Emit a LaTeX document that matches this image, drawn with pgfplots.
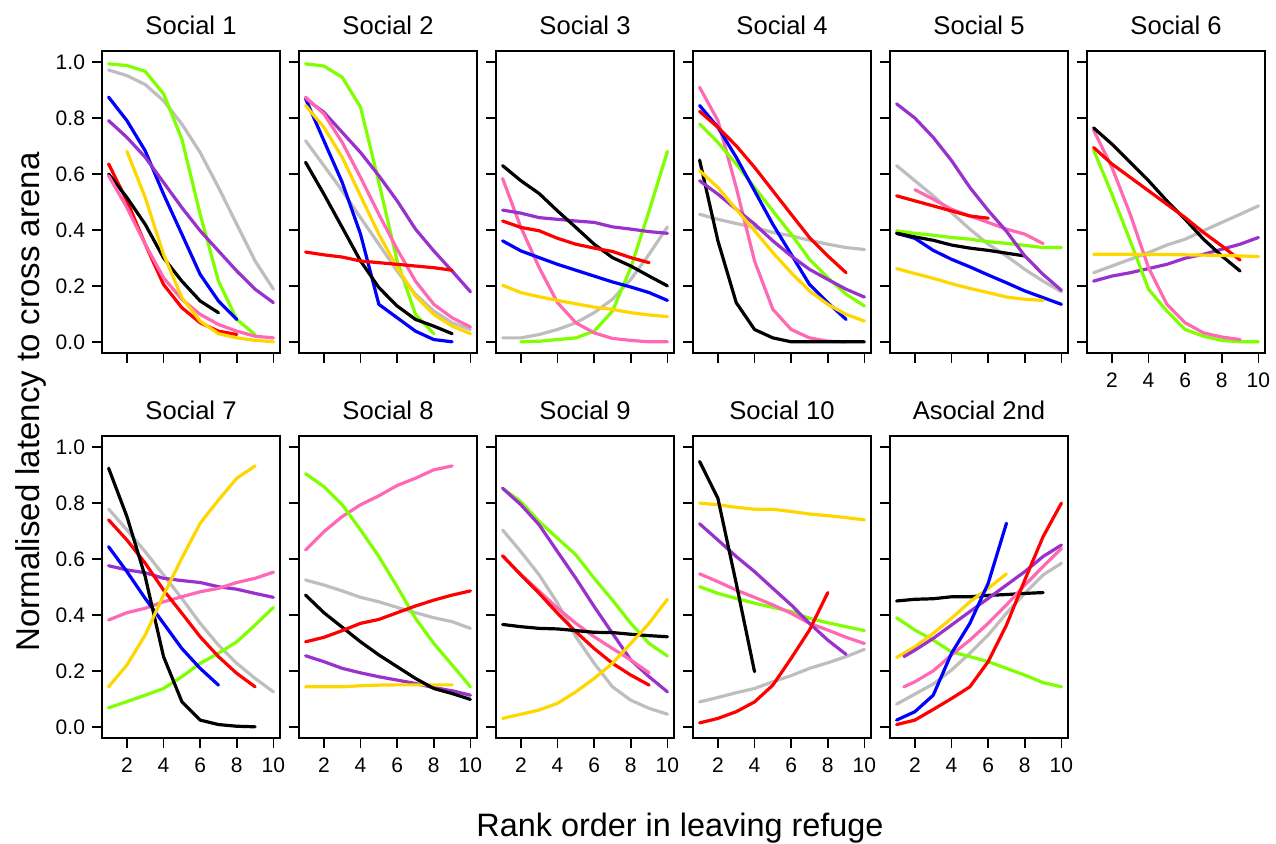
\documentclass[border=0pt]{standalone}
\usepackage{fontspec}
\setmainfont{Liberation Sans}
\usepackage{pgfplots}
\pgfplotsset{compat=1.18}

\definecolor{cgreen}{HTML}{7FFF00}
\definecolor{cpurple}{HTML}{9932CC}
\definecolor{cpink}{HTML}{FF69B4}
\definecolor{cgold}{HTML}{FFD700}
\definecolor{cgray}{HTML}{BEBEBE}
\definecolor{cblue}{HTML}{0000FF}
\definecolor{cred}{HTML}{FF0000}

\pgfplotsset{
  panel/.style={
    width=89pt, height=151pt, scale only axis,
    anchor=south west,
    xmin=0.64, xmax=10.36, ymin=-0.04, ymax=1.04,
    xtick={2,4,6,8,10}, ytick={0,0.2,0.4,0.6,0.8,1},
    tick pos=left, tick align=outside, major tick length=5pt,
    axis line style={line width=0.8pt},
    every tick/.style={black, line width=0.8pt},
    tick label style={font=\fontsize{10.5}{12}\selectfont},
    /pgf/number format/assume math mode=true,
    yticklabel style={/pgf/number format/.cd, fixed, fixed zerofill, precision=1},
    xticklabel style={yshift=-1.5pt},
    title style={at={(0.5,1)}, anchor=base, yshift=2pt, font=\fontsize{12.8}{15}\selectfont},
    every axis plot/.append style={line width=1.6pt, line cap=round, line join=round, mark=none},
  },
  noy/.style={yticklabels={}},
  nox/.style={xticklabels={}},
}

\begin{document}
\begin{tikzpicture}
\useasboundingbox (0,0) rectangle (638pt,422pt);

% ---------------- row 1 ----------------
\begin{axis}[panel, nox, at={(51pt,245.5pt)}, title={Social 1}]
\addplot[cgray] coordinates {(1,0.972)(2,0.952)(3,0.92)(4,0.862)(5,0.779)(6,0.677)(7,0.552)(8,0.42)(9,0.289)(10,0.188)};
\addplot[cgreen] coordinates {(1,0.994)(2,0.988)(3,0.967)(4,0.887)(5,0.725)(6,0.456)(7,0.217)(8,0.08)(9,0.026)};
\addplot[cblue] coordinates {(1,0.875)(2,0.791)(3,0.683)(4,0.528)(5,0.385)(6,0.241)(7,0.146)(8,0.08)};
\addplot[cpurple] coordinates {(1,0.791)(2,0.731)(3,0.66)(4,0.57)(5,0.48)(6,0.397)(7,0.325)(8,0.253)(9,0.188)(10,0.14)};
\addplot[cred] coordinates {(1,0.636)(2,0.504)(3,0.349)(4,0.205)(5,0.122)(6,0.068)(7,0.038)(8,0.026)};
\addplot[black] coordinates {(1,0.6)(2,0.516)(3,0.42)(4,0.3)(5,0.217)(6,0.146)(7,0.104)};
\addplot[cpink] coordinates {(1,0.594)(2,0.48)(3,0.349)(4,0.229)(5,0.152)(6,0.098)(7,0.062)(8,0.038)(9,0.02)(10,0.014)};
\addplot[cgold] coordinates {(2,0.681)(3,0.516)(4,0.313)(5,0.158)(6,0.074)(7,0.029)(8,0.014)(9,0.005)(10,0.0)};
\end{axis}

\begin{axis}[panel, nox, noy, at={(149.5pt,245.5pt)}, title={Social 2}]
\addplot[cgreen] coordinates {(1,0.994)(2,0.986)(3,0.946)(4,0.839)(5,0.57)(6,0.289)(7,0.098)(8,0.029)};
\addplot[cgray] coordinates {(1,0.719)(2,0.63)(3,0.54)(4,0.444)(5,0.349)(6,0.253)(7,0.17)(8,0.11)(9,0.068)(10,0.044)};
\addplot[cblue] coordinates {(1,0.869)(2,0.719)(3,0.57)(4,0.385)(5,0.134)(6,0.086)(7,0.038)(8,0.008)(9,0.0)};
\addplot[cpurple] coordinates {(1,0.869)(2,0.821)(3,0.749)(4,0.677)(5,0.594)(6,0.504)(7,0.403)(8,0.325)(9,0.253)(10,0.179)};
\addplot[cpink] coordinates {(1,0.875)(2,0.815)(3,0.713)(4,0.588)(5,0.456)(6,0.331)(7,0.217)(8,0.134)(9,0.086)(10,0.053)};
\addplot[cgold] coordinates {(1,0.845)(2,0.767)(3,0.66)(4,0.522)(5,0.385)(6,0.265)(7,0.164)(8,0.098)(9,0.056)(10,0.029)};
\addplot[black] coordinates {(1,0.642)(2,0.528)(3,0.409)(4,0.289)(5,0.194)(6,0.128)(7,0.08)(8,0.056)(9,0.029)};
\addplot[cred] coordinates {(1,0.321)(2,0.311)(3,0.303)(4,0.289)(5,0.283)(6,0.277)(7,0.271)(8,0.265)(9,0.256)};
\end{axis}

\begin{axis}[panel, nox, noy, at={(248pt,245.5pt)}, title={Social 3}]
\addplot[cgray] coordinates {(1,0.014)(2,0.014)(3,0.026)(4,0.044)(5,0.068)(6,0.104)(7,0.152)(8,0.223)(9,0.313)(10,0.411)};
\addplot[cgreen] coordinates {(2,0.0)(3,0.002)(4,0.008)(5,0.014)(6,0.038)(7,0.11)(8,0.265)(9,0.468)(10,0.681)};
\addplot[cpink] coordinates {(1,0.584)(2,0.409)(3,0.265)(4,0.14)(5,0.068)(6,0.032)(7,0.012)(8,0.005)(9,0.0)(10,0.0)};
\addplot[cpurple] coordinates {(1,0.471)(2,0.46)(3,0.444)(4,0.438)(5,0.432)(6,0.427)(7,0.411)(8,0.403)(9,0.394)(10,0.388)};
\addplot[cblue] coordinates {(1,0.361)(2,0.325)(3,0.301)(4,0.277)(5,0.256)(6,0.235)(7,0.214)(8,0.196)(9,0.176)(10,0.148)};
\addplot[cgold] coordinates {(1,0.202)(2,0.176)(3,0.161)(4,0.148)(5,0.136)(6,0.124)(7,0.116)(8,0.104)(9,0.096)(10,0.09)};
\addplot[black] coordinates {(1,0.63)(2,0.576)(3,0.53)(4,0.468)(5,0.409)(6,0.349)(7,0.301)(8,0.271)(9,0.235)(10,0.2)};
\addplot[cred] coordinates {(1,0.432)(2,0.409)(3,0.397)(4,0.37)(5,0.349)(6,0.335)(7,0.323)(8,0.301)(9,0.283)};
\end{axis}

\begin{axis}[panel, nox, noy, at={(346.5pt,245.5pt)}, title={Social 4}]
\addplot[cgray] coordinates {(1,0.456)(2,0.438)(3,0.423)(4,0.409)(5,0.391)(6,0.379)(7,0.363)(8,0.349)(9,0.337)(10,0.33)};
\addplot[cpink] coordinates {(1,0.91)(2,0.791)(3,0.552)(4,0.289)(5,0.116)(6,0.044)(7,0.014)(8,0.002)(9,0.0)};
\addplot[black] coordinates {(1,0.65)(2,0.361)(3,0.14)(4,0.044)(5,0.014)(6,0.0)(7,0.0)(8,0.0)(9,0.0)(10,0.0)};
\addplot[cgreen] coordinates {(1,0.779)(2,0.713)(3,0.636)(4,0.552)(5,0.468)(6,0.385)(7,0.295)(8,0.229)(9,0.17)(10,0.128)};
\addplot[cblue] coordinates {(1,0.845)(2,0.767)(3,0.66)(4,0.54)(5,0.42)(6,0.313)(7,0.205)(8,0.14)(9,0.08)};
\addplot[cpurple] coordinates {(1,0.576)(2,0.528)(3,0.474)(4,0.421)(5,0.361)(6,0.307)(7,0.259)(8,0.223)(9,0.188)(10,0.16)};
\addplot[cgold] coordinates {(1,0.612)(2,0.552)(3,0.474)(4,0.397)(5,0.319)(6,0.247)(7,0.182)(8,0.134)(9,0.098)(10,0.074)};
\addplot[cred] coordinates {(1,0.824)(2,0.767)(3,0.701)(4,0.624)(5,0.54)(6,0.456)(7,0.373)(8,0.307)(9,0.247)};
\end{axis}

\begin{axis}[panel, nox, noy, at={(445pt,245.5pt)}, title={Social 5}]
\addplot[cgray] coordinates {(1,0.63)(2,0.576)(3,0.522)(4,0.462)(5,0.403)(6,0.349)(7,0.307)(8,0.259)(9,0.217)(10,0.179)};
\addplot[cgreen] coordinates {(1,0.397)(2,0.388)(3,0.381)(4,0.373)(5,0.367)(6,0.358)(7,0.352)(8,0.345)(9,0.337)(10,0.337)};
\addplot[cblue] coordinates {(1,0.388)(2,0.37)(3,0.327)(4,0.295)(5,0.268)(6,0.239)(7,0.211)(8,0.182)(9,0.158)(10,0.134)};
\addplot[cgold] coordinates {(1,0.262)(2,0.244)(3,0.227)(4,0.208)(5,0.191)(6,0.176)(7,0.16)(8,0.152)(9,0.148)};
\addplot[black] coordinates {(1,0.388)(2,0.375)(3,0.363)(4,0.346)(5,0.335)(6,0.327)(7,0.317)(8,0.307)};
\addplot[cpink] coordinates {(2,0.544)(3,0.51)(4,0.474)(5,0.45)(6,0.427)(7,0.403)(8,0.385)(9,0.351)};
\addplot[cred] coordinates {(1,0.522)(2,0.504)(3,0.486)(4,0.468)(5,0.45)(6,0.442)};
\addplot[cpurple] coordinates {(1,0.851)(2,0.8)(3,0.731)(4,0.648)(5,0.552)(6,0.47)(7,0.395)(8,0.307)(9,0.241)(10,0.184)};
\end{axis}

\begin{axis}[panel, noy, at={(543.5pt,245.5pt)}, title={Social 6}]
\addplot[cgray] coordinates {(1,0.247)(2,0.271)(3,0.295)(4,0.319)(5,0.346)(6,0.367)(7,0.397)(8,0.427)(9,0.456)(10,0.486)};
\addplot[cpurple] coordinates {(1,0.217)(2,0.235)(3,0.247)(4,0.262)(5,0.277)(6,0.299)(7,0.313)(8,0.331)(9,0.349)(10,0.373)};
\addplot[cgreen] coordinates {(1,0.686)(2,0.528)(3,0.361)(4,0.188)(5,0.11)(6,0.044)(7,0.02)(8,0.005)(9,0.0)(10,0.0)};
\addplot[cpink] coordinates {(1,0.757)(2,0.624)(3,0.456)(4,0.265)(5,0.134)(6,0.068)(7,0.032)(8,0.017)(9,0.008)};
\addplot[black] coordinates {(1,0.765)(2,0.707)(3,0.642)(4,0.576)(5,0.504)(6,0.438)(7,0.367)(8,0.307)(9,0.253)};
\addplot[cred] coordinates {(1,0.695)(2,0.636)(3,0.588)(4,0.54)(5,0.492)(6,0.444)(7,0.391)(8,0.343)(9,0.292)};
\addplot[cgold] coordinates {(1,0.313)(2,0.313)(3,0.313)(4,0.312)(5,0.312)(6,0.311)(7,0.31)(8,0.309)(9,0.307)(10,0.305)};
\end{axis}

% ---------------- row 2 ----------------
\begin{axis}[panel, at={(51pt,53pt)}, title={Social 7}]
\addplot[cgray] coordinates {(1,0.779)(2,0.704)(3,0.626)(4,0.543)(5,0.459)(6,0.37)(7,0.292)(8,0.227)(9,0.173)(10,0.125)};
\addplot[cgreen] coordinates {(1,0.068)(2,0.09)(3,0.113)(4,0.137)(5,0.179)(6,0.227)(7,0.263)(8,0.304)(9,0.364)(10,0.427)};
\addplot[cpurple] coordinates {(1,0.576)(2,0.561)(3,0.551)(4,0.531)(5,0.523)(6,0.516)(7,0.501)(8,0.492)(9,0.477)(10,0.463)};
\addplot[cpink] coordinates {(1,0.382)(2,0.408)(3,0.424)(4,0.447)(5,0.465)(6,0.483)(7,0.495)(8,0.516)(9,0.531)(10,0.553)};
\addplot[cblue] coordinates {(1,0.644)(2,0.555)(3,0.459)(4,0.37)(5,0.28)(6,0.209)(7,0.149)};
\addplot[cred] coordinates {(1,0.74)(2,0.668)(3,0.585)(4,0.489)(5,0.406)(6,0.322)(7,0.251)(8,0.191)(9,0.143)};
\addplot[black] coordinates {(1,0.925)(2,0.752)(3,0.537)(4,0.251)(5,0.09)(6,0.024)(7,0.008)(8,0.002)(9,0.0)};
\addplot[cgold] coordinates {(1,0.143)(2,0.221)(3,0.328)(4,0.471)(5,0.603)(6,0.728)(7,0.811)(8,0.889)(9,0.933)};
\end{axis}

\begin{axis}[panel, noy, at={(149.5pt,53pt)}, title={Social 8}]
\addplot[cgray] coordinates {(1,0.525)(2,0.507)(3,0.486)(4,0.463)(5,0.447)(6,0.427)(7,0.408)(8,0.39)(9,0.376)(10,0.352)};
\addplot[cpink] coordinates {(1,0.632)(2,0.698)(3,0.752)(4,0.794)(5,0.826)(6,0.863)(7,0.889)(8,0.919)(9,0.933)};
\addplot[cgreen] coordinates {(1,0.905)(2,0.859)(3,0.794)(4,0.704)(5,0.609)(6,0.501)(7,0.388)(8,0.298)(9,0.221)(10,0.143)};
\addplot[cpurple] coordinates {(1,0.254)(2,0.233)(3,0.209)(4,0.193)(5,0.179)(6,0.167)(7,0.155)(8,0.14)(9,0.129)(10,0.113)};
\addplot[cgold] coordinates {(1,0.143)(2,0.143)(3,0.143)(4,0.147)(5,0.149)(6,0.15)(7,0.15)(8,0.15)(9,0.15)};
\addplot[black] coordinates {(1,0.471)(2,0.408)(3,0.356)(4,0.304)(5,0.257)(6,0.215)(7,0.173)(8,0.137)(9,0.119)(10,0.098)};
\addplot[cred] coordinates {(1,0.304)(2,0.32)(3,0.344)(4,0.37)(5,0.384)(6,0.408)(7,0.432)(8,0.453)(9,0.471)(10,0.486)};
\end{axis}

\begin{axis}[panel, noy, at={(248pt,53pt)}, title={Social 9}]
\addplot[cgray] coordinates {(1,0.704)(2,0.626)(3,0.543)(4,0.442)(5,0.322)(6,0.227)(7,0.143)(8,0.095)(9,0.066)(10,0.045)};
\addplot[cgreen] coordinates {(1,0.853)(2,0.805)(3,0.734)(4,0.674)(5,0.615)(6,0.531)(7,0.453)(8,0.37)(9,0.298)(10,0.253)};
\addplot[cpurple] coordinates {(1,0.853)(2,0.794)(3,0.722)(4,0.626)(5,0.531)(6,0.43)(7,0.334)(8,0.239)(9,0.179)(10,0.125)};
\addplot[cpink] coordinates {(1,0.61)(2,0.545)(3,0.485)(4,0.424)(5,0.37)(6,0.322)(7,0.28)(8,0.239)(9,0.193)};
\addplot[cred] coordinates {(1,0.612)(2,0.543)(3,0.477)(4,0.406)(5,0.34)(6,0.28)(7,0.227)(8,0.185)(9,0.149)};
\addplot[black] coordinates {(1,0.366)(2,0.358)(3,0.352)(4,0.35)(5,0.344)(6,0.338)(7,0.337)(8,0.331)(9,0.326)(10,0.322)};
\addplot[cgold] coordinates {(1,0.03)(2,0.045)(3,0.06)(4,0.084)(5,0.125)(6,0.173)(7,0.227)(8,0.298)(9,0.37)(10,0.456)};
\end{axis}

\begin{axis}[panel, noy, at={(346.5pt,53pt)}, title={Social 10}]
\addplot[cgray] coordinates {(1,0.089)(2,0.105)(3,0.122)(4,0.137)(5,0.161)(6,0.183)(7,0.209)(8,0.229)(9,0.251)(10,0.277)};
\addplot[cgold] coordinates {(1,0.8)(2,0.794)(3,0.785)(4,0.778)(5,0.778)(6,0.77)(7,0.761)(8,0.755)(9,0.748)(10,0.74)};
\addplot[cgreen] coordinates {(1,0.501)(2,0.477)(3,0.459)(4,0.442)(5,0.427)(6,0.412)(7,0.388)(8,0.372)(9,0.358)(10,0.344)};
\addplot[cpink] coordinates {(1,0.547)(2,0.519)(3,0.489)(4,0.463)(5,0.436)(6,0.406)(7,0.37)(8,0.346)(9,0.32)(10,0.298)};
\addplot[cpurple] coordinates {(1,0.726)(2,0.668)(3,0.609)(4,0.555)(5,0.495)(6,0.436)(7,0.37)(8,0.31)(9,0.259)};
\addplot[black] coordinates {(1,0.949)(2,0.817)(3,0.513)(4,0.197)};
\addplot[cred] coordinates {(1,0.014)(2,0.03)(3,0.054)(4,0.089)(5,0.149)(6,0.245)(7,0.346)(8,0.48)};
\end{axis}

\begin{axis}[panel, noy, at={(445pt,53pt)}, title={Asocial 2nd}]
\addplot[cgray] coordinates {(1,0.081)(2,0.117)(3,0.153)(4,0.203)(5,0.263)(6,0.328)(7,0.406)(8,0.477)(9,0.543)(10,0.585)};
\addplot[cgreen] coordinates {(1,0.39)(2,0.346)(3,0.31)(4,0.268)(5,0.251)(6,0.233)(7,0.209)(8,0.185)(9,0.158)(10,0.143)};
\addplot[black] coordinates {(1,0.45)(2,0.456)(3,0.458)(4,0.465)(5,0.465)(6,0.47)(7,0.473)(8,0.477)(9,0.48)};
\addplot[cgold] coordinates {(1,0.248)(2,0.286)(3,0.334)(4,0.388)(5,0.447)(6,0.495)(7,0.547)};
\addplot[cpurple] coordinates {(1.4,0.251)(2,0.274)(3,0.316)(4,0.364)(5,0.412)(6,0.459)(7,0.507)(8,0.555)(9,0.609)(10,0.65)};
\addplot[cpink] coordinates {(1.4,0.143)(2,0.161)(3,0.2)(4,0.257)(5,0.31)(6,0.37)(7,0.436)(8,0.507)(9,0.573)(10,0.638)};
\addplot[cblue] coordinates {(1,0.024)(2,0.054)(3,0.113)(4,0.263)(5,0.37)(6,0.513)(7,0.728)};
\addplot[cred] coordinates {(1,0.008)(2,0.024)(3,0.062)(4,0.101)(5,0.143)(6,0.233)(7,0.364)(8,0.525)(9,0.68)(10,0.8)};
\end{axis}

% shared axis titles
\node[anchor=base, font=\fontsize{16.2}{19}\selectfont] at (340pt,3.6pt) {Rank order in leaving refuge};
\node[anchor=base, rotate=90, font=\fontsize{16.5}{19}\selectfont] at (20pt,221pt) {Normalised latency to cross arena};
\end{tikzpicture}
\end{document}
